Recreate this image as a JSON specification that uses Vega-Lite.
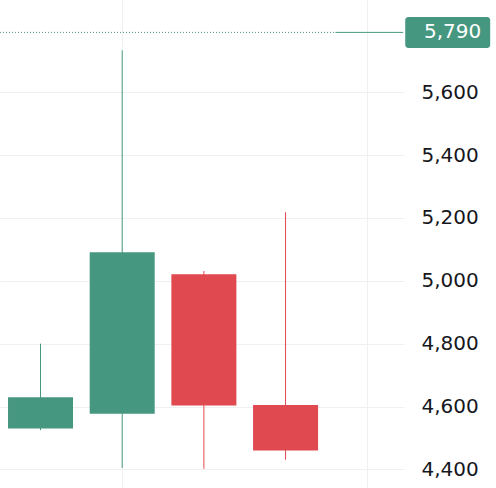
{
  "$schema": "https://vega.github.io/schema/vega-lite/v6.json",
  "width": 404,
  "height": 488,
  "padding": {"left": 0, "top": 0, "right": 92, "bottom": 0},
  "autosize": {"type": "none"},
  "background": "white",
  "config": {
    "view": {"stroke": null},
    "font": "DejaVu Sans"
  },
  "datasets": {
    "candles": [
      {"i": 1, "open": 4530, "close": 4630, "high": 4800, "low": 4525, "dir": "up"},
      {"i": 2, "open": 4577, "close": 5091, "high": 5733, "low": 4405, "dir": "up"},
      {"i": 3, "open": 5021, "close": 4603, "high": 5031, "low": 4402, "dir": "down"},
      {"i": 4, "open": 4605, "close": 4460, "high": 5218, "low": 4431, "dir": "down"}
    ],
    "last": [{"last": 5790}]
  },
  "layer": [
    {
      "data": {"name": "candles"},
      "mark": {"type": "rule", "strokeWidth": 1},
      "encoding": {
        "x": {
          "field": "i", "type": "quantitative",
          "scale": {"domain": [0.504, 5.45], "nice": false, "zero": false, "padding": 0},
          "axis": {"title": null, "labels": false, "ticks": false, "domain": false, "grid": true, "values": [2, 5], "gridColor": "#f0f0f0", "gridWidth": 1}
        },
        "y": {
          "field": "low", "type": "quantitative",
          "scale": {"domain": [4341, 5893], "nice": false, "zero": false, "padding": 0},
          "axis": {"orient": "right", "title": null, "values": [4400, 4600, 4800, 5000, 5200, 5400, 5600], "format": ",.0f", "domain": false, "ticks": false, "labelPadding": 17, "labelFont": "DejaVu Sans", "labelFontSize": 20, "labelColor": "#16171c", "gridColor": "#f0f0f0", "gridWidth": 1}
        },
        "y2": {"field": "high"},
        "color": {"field": "dir", "type": "nominal", "scale": {"domain": ["up", "down"], "range": ["#46977f", "#e0494f"]}, "legend": null}
      }
    },
    {
      "data": {"name": "candles"},
      "mark": {"type": "bar", "width": 65},
      "encoding": {
        "x": {"field": "i", "type": "quantitative"},
        "y": {"field": "open", "type": "quantitative"},
        "y2": {"field": "close"},
        "color": {"field": "dir", "type": "nominal", "legend": null}
      }
    },
    {
      "data": {"name": "last"},
      "mark": {"type": "rule", "color": "#46977f", "strokeWidth": 1, "strokeDash": [1, 2]},
      "encoding": {
        "x": {"datum": 0.504},
        "x2": {"datum": 4.6},
        "y": {"field": "last", "type": "quantitative"}
      }
    },
    {
      "data": {"name": "last"},
      "mark": {"type": "rule", "color": "#46977f", "strokeWidth": 1},
      "encoding": {
        "x": {"datum": 4.61},
        "x2": {"datum": 5.44},
        "y": {"field": "last", "type": "quantitative"}
      }
    },
    {
      "data": {"name": "last"},
      "mark": {"type": "bar", "color": "#46977f", "height": 31, "cornerRadius": 3, "clip": false},
      "encoding": {
        "x": {"datum": 5.465},
        "x2": {"datum": 6.505},
        "y": {"field": "last", "type": "quantitative"}
      }
    },
    {
      "data": {"name": "last"},
      "mark": {"type": "text", "color": "white", "align": "right", "baseline": "middle", "font": "DejaVu Sans", "fontSize": 20, "clip": false},
      "encoding": {
        "x": {"datum": 6.396},
        "y": {"field": "last", "type": "quantitative"},
        "text": {"field": "last", "type": "quantitative", "format": ",.0f"}
      }
    }
  ]
}
